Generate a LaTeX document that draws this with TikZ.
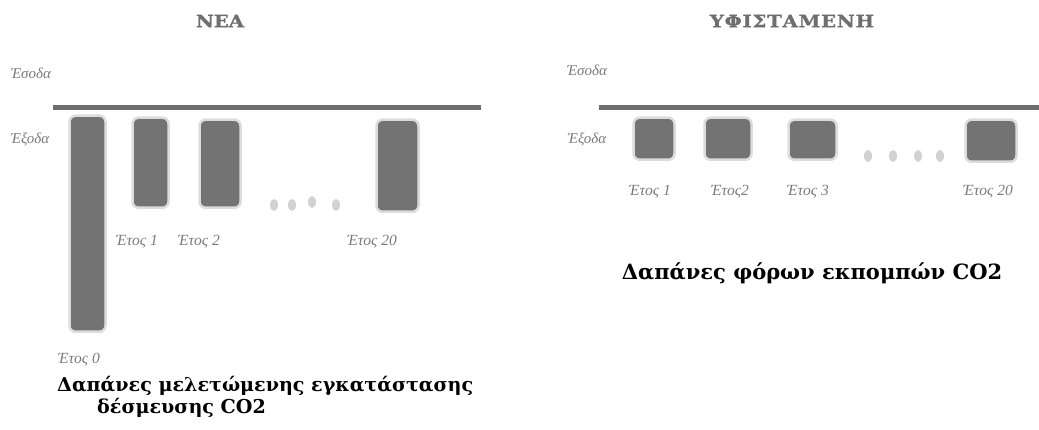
\documentclass[tikz,border=0pt]{standalone}
\usepackage{fontspec}
\setmainfont{Liberation Serif}
\newfontfamily\capfont{DejaVu Serif}
\newfontfamily\titlefont[FakeStretch=1.15,BoldFont={DejaVu Serif Bold},
  BoldFeatures={FakeStretch=1.15,FakeBold=1.2}]{DejaVu Serif}
\usetikzlibrary{positioning,shapes.geometric}
\definecolor{barfill}{HTML}{737373}
\definecolor{barhalo}{HTML}{DCDCDC}
\definecolor{axisgray}{HTML}{6E6E6E}
\definecolor{labgray}{HTML}{7A7A7A}
\definecolor{dotgray}{HTML}{D2D2D2}
\tikzset{
  costbar/.style={draw=barhalo,line width=2.5pt,fill=barfill,rounded corners=6pt,
                  anchor=north,inner sep=0pt},
  axisline/.style={draw=axisgray,line width=5pt},
  yearlab/.style={font=\itshape\fontsize{15.5}{17}\selectfont,text=labgray,inner sep=0pt},
  sidelab/.style={font=\itshape\fontsize{15}{17}\selectfont,text=labgray,inner sep=0pt},
  paneltitle/.style={font=\titlefont\bfseries\fontsize{17}{19}\selectfont,text=axisgray},
  caption/.style={font=\capfont\bfseries\fontsize{19.1}{22}\selectfont,align=left,inner sep=0pt},
  gapdot/.style={shape=ellipse,fill=dotgray,draw=none,minimum width=8pt,minimum height=12pt,inner sep=0pt}
}
\begin{document}
\begin{tikzpicture}[x=1pt,y=-1pt]
\useasboundingbox (0,0) rectangle (1039,430);

% --- new plant ---
\node[paneltitle] (newtitle) at (220,21) {ΝΕΑ};
\node[sidelab] (newin) at (31,73) {Έσοδα};
\node[sidelab] (newout) at (30,140) {Έξοδα};
\coordinate (newax0) at (53,108);
\coordinate (newax1) at (481,108);
\draw[axisline] (newax0) -- (newax1);

\node[costbar,minimum width=36pt,minimum height=216pt] (nb0) at (87.5,114.5) {};
\node[costbar,minimum width=36pt,minimum height=90pt] (nb1) at (150.5,116.5) {};
\node[costbar,minimum width=41pt,minimum height=88pt] (nb2) at (220,118.5) {};
\node[costbar,minimum width=42pt,minimum height=92pt] (nb20) at (397.5,118.5) {};

\foreach \x/\y [count=\i] in {274/205,292/205,312/202,336/205}
  \node[gapdot] (ndot\i) at (\x,\y) {};

\node[yearlab] (ny0) at (79,360) {Έτος 0};
\node[yearlab] (ny1) at (137,242) {Έτος 1};
\node[yearlab] (ny2) at (199,242) {Έτος 2};
\node[yearlab] (ny20) at (372,242) {Έτος 20};

\node[caption,anchor=north west] (newcap) at (57,376)
  {Δαπάνες μελετώμενης εγκατάστασης\\\hspace*{40pt}δέσμευσης CO2};

% --- existing plant ---
\node[paneltitle] (oldtitle) at (792,21) {\addfontfeature{LetterSpace=5}ΥΦΙΣΤΑΜΕΝΗ};
\node[sidelab] (oldin) at (587,70) {Έσοδα};
\node[sidelab] (oldout) at (587,140) {Έξοδα};
\coordinate (oldax0) at (599,108);
\coordinate (oldax1) at (1039,108);
\draw[axisline] (oldax0) -- (oldax1);

\node[costbar,minimum width=41pt,minimum height=42pt] (ob1) at (654,116.5) {};
\node[costbar,minimum width=47pt,minimum height=42pt] (ob2) at (728,116.5) {};
\node[costbar,minimum width=48pt,minimum height=40pt] (ob3) at (812.5,118.5) {};
\node[costbar,minimum width=51pt,minimum height=42pt] (ob20) at (991,118.5) {};

\foreach \x [count=\i] in {868,893,918,940}
  \node[gapdot] (odot\i) at (\x,156) {};

\node[yearlab] (oy1) at (650,192) {Έτος 1};
\node[yearlab] (oy2) at (730,192) {Έτος2};
\node[yearlab] (oy3) at (808,192) {Έτος 3};
\node[yearlab] (oy20) at (988,192) {Έτος 20};

\node[caption,font=\capfont\bfseries\fontsize{21}{24}\selectfont] (oldcap) at (812,273)
  {Δαπάνες φόρων εκπομπών CO2};
\end{tikzpicture}
\end{document}
